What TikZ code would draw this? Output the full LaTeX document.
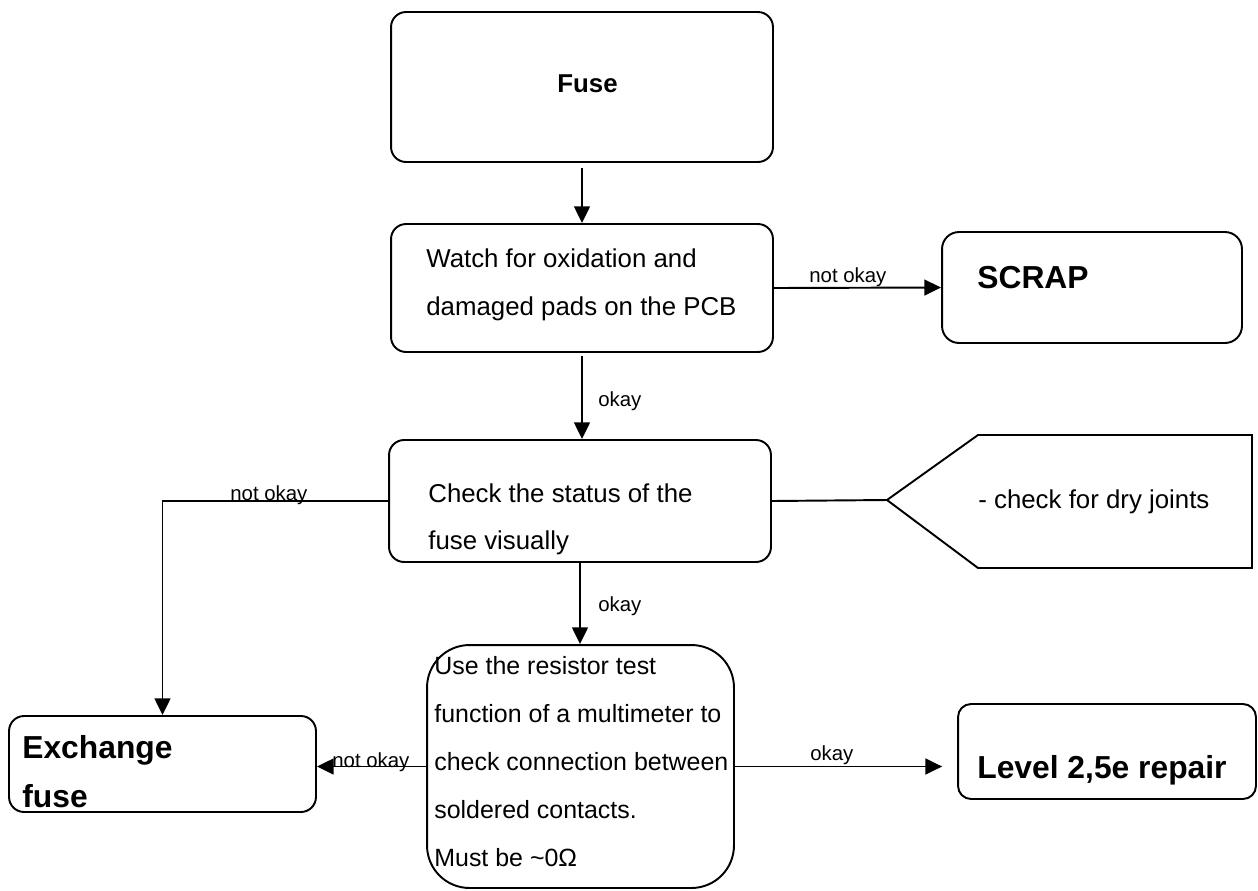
\documentclass[tikz,border=0pt]{standalone}
\usepackage{fontspec}
\setmainfont{Liberation Sans}
\usetikzlibrary{arrows.meta}

\begin{document}
\begin{tikzpicture}[x=0.02cm,y=-0.02cm]
                \tikzstyle{every node}+=[inner sep=0pt]
                \tikzstyle{box}=[draw=black, line width=1.1pt, rounded corners=0.3cm]
                \tikzstyle{arr}=[black, line width=1.1pt, -{Triangle[length=9.5pt,width=9pt]}]
                \tikzstyle{txt}=[anchor=base west, font=\fontsize{14.7}{17}\selectfont]
                \tikzstyle{small}=[anchor=base west, font=\fontsize{14.2}{17}\selectfont]
                \tikzstyle{big}=[anchor=base west, font=\bfseries\fontsize{18.1}{21}\selectfont]
                \tikzstyle{lbl}=[anchor=base west, font=\fontsize{11.6}{13}\selectfont]
                \useasboundingbox (0,0) rectangle (1258,890);
                % boxes
                \node [box, minimum width=7.64cm, minimum height=3cm] (fuse) at (582,87) {};
                \node [box, minimum width=7.64cm, minimum height=2.56cm] (watch) at (582,288) {};
                \node [box, rounded corners=0.34cm, minimum width=6cm, minimum height=2.22cm] (scrap) at (1092,287.5) {};
                \node [box, minimum width=7.64cm, minimum height=2.44cm] (check) at (580,501) {};
                \node [box, rounded corners=0.85cm, minimum width=6.14cm, minimum height=4.86cm] (use) at (580.5,766.5) {};
                \node [box, minimum width=6.14cm, minimum height=1.92cm] (exch) at (162.5,764) {};
                \node [box, rounded corners=0.26cm, minimum width=5.96cm, minimum height=1.9cm] (level) at (1107,751.5) {};
                \coordinate (drytip) at (887,500);
                \draw [black, line width=1.1pt] (drytip) -- (978,435) -- (1252,435) -- (1252,568) -- (978,568) -- cycle;
                % texts
                \node [txt, font=\bfseries\fontsize{14.7}{17}\selectfont] (fusetxt) at (557,92) {Fuse};
                \node [txt] (watchtxta) at (426,267) {Watch for oxidation and};
                \node [txt] (watchtxtb) at (426,315) {damaged pads on the PCB};
                \node [big] (scraptxt) at (977,288) {SCRAP};
                \node [txt] (checktxta) at (428,502) {Check the status of the};
                \node [txt] (checktxtb) at (428,549) {fuse visually};
                \node [txt] (drytxt) at (978,508) {- check for dry joints};
                \node [small] (usetxta) at (434,674) {Use the resistor test};
                \node [small] (usetxtb) at (434,722) {function of a multimeter to};
                \node [small] (usetxtc) at (434,770) {check connection between};
                \node [small] (usetxtd) at (434,818) {soldered contacts.};
                \node [small] (usetxte) at (434,866) {Must be \textasciitilde0Ω};
                \node [big] (exchtxta) at (22,758) {Exchange};
                \node [big] (exchtxtb) at (22,807) {fuse};
                \node [big] (leveltxt) at (977,778) {Level 2,5e repair};
                % connectors
                \draw [arr, shorten <=3pt] (fuse.south) -- (watch.north);
                \draw [arr] (watch.east) -- (scrap.west);
                \draw [arr, shorten <=2pt] (watch.south) -- (watch.south |- check.north);
                \draw [arr] (check.south) -- (check.south |- use.north);
                \draw [arr] (check.west) -| (exch.north);
                \draw [arr] (use.west) -- (use.west -| exch.east);
                \draw [arr, shorten >=8.5pt] (use.east) -- (use.east -| level.west);
                \draw [black, line width=1.1pt] (check.east) -- (drytip);
                % labels
                \node [lbl] (noka) at (809,282) {not okay};
                \node [lbl] (oka) at (598,406) {okay};
                \node [lbl] (okb) at (598,611) {okay};
                \node [lbl] (nokb) at (230,500) {not okay};
                \node [lbl] (nokc) at (332,767) {not okay};
                \node [lbl] (okc) at (810,760) {okay};
\end{tikzpicture}
\end{document}
